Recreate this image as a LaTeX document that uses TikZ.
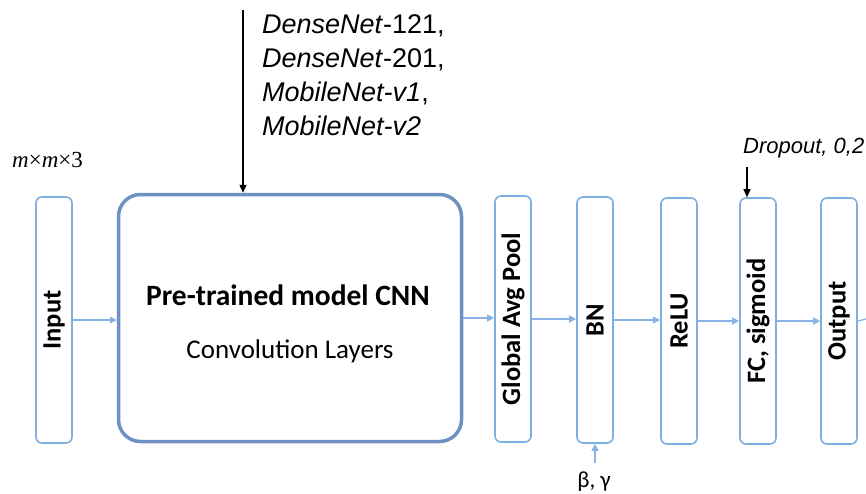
\documentclass[tikz,border=0pt]{standalone}
\usepackage{fontspec}
\setmainfont{Carlito}
\newfontfamily\arialfont{Liberation Sans}
\newfontfamily\timesfont{Liberation Serif}
\usepackage{graphicx}
\usetikzlibrary{arrows.meta}
\definecolor{layer edge}{RGB}{125,175,225}
\definecolor{cnn edge}{RGB}{110,145,195}
\definecolor{flow blue}{RGB}{135,180,228}
\tikzset{layerbox/.style={draw=layer edge, line width=1.6pt, rounded corners=6pt, minimum width=36pt, minimum height=246pt, inner sep=0pt, font=\fontsize{26.5}{30}\selectfont\bfseries},
	cnnbox/.style={draw=cnn edge, line width=3.5pt, rounded corners=22pt, minimum width=343pt, minimum height=247pt},
	flowarrow/.style={draw=flow blue, line width=1.3pt, -{Triangle[length=7pt,width=7pt]}},
	feedarrow/.style={draw=black, line width=1.3pt, -{Triangle[length=8pt,width=7pt]}},
	note/.style={font=\arialfont\fontsize{27}{34}\selectfont, align=left, inner sep=0pt}}

\begin{document}
\begin{tikzpicture}[x=1pt,y=-1pt]
		\useasboundingbox (0,0) rectangle (866,493);
		\node[layerbox] (in) at (54,320) {\rotatebox{90}{Input}};
		\node[cnnbox] (cnn) at (290,318) {};
		\node[font=\fontsize{29.5}{33}\selectfont\bfseries] (title) at (288,295) {Pre-trained model CNN};
		\node[font=\fontsize{27}{31}\selectfont] (conv) at (290,351) {Convolution Layers};
		\node[layerbox] (gap) at (513,319) {\rotatebox{90}{Global Avg Pool}};
		\node[layerbox] (bn) at (595,320) {\rotatebox{90}{BN}};
		\node[layerbox] (relu) at (679,321) {\rotatebox{90}{ReLU}};
		\node[layerbox] (fc) at (758,321) {\rotatebox{90}{FC, sigmoid}};
		\node[layerbox] (out) at (839,321) {\rotatebox{90}{Output}};
		
		\foreach \a/\b in {in/cnn,cnn/gap,gap/bn,bn/relu,relu/fc,fc/out}
			\draw[flowarrow] (\a.east) -- (\a.east -| \b.west);
		\coordinate (end) at (866,319);
		\draw[draw=flow blue, line width=1.3pt] (out.east) -- (end);
		
		\coordinate (src) at (243,10);
		\draw[feedarrow] (src) -- (src |- cnn.north);
		\node[note, anchor=north west] (nets) at (262,14) {\textit{DenseNet}-121,\\ \textit{DenseNet}-201,\\ \textit{MobileNet-v1},\\ \textit{MobileNet-v2}};
		
		\coordinate (drop) at (747,167);
		\draw[feedarrow] (drop) -- (drop |- fc.north);
		\node[anchor=base west, font=\arialfont\itshape\fontsize{22}{26}\selectfont, inner sep=0pt] (dropout) at (743,153) {Dropout, 0,2};
		
		\coordinate (bg) at (595,463);
		\draw[flowarrow] (bg) -- (bn.south);
		\node[anchor=base, font=\fontsize{23}{26}\selectfont, inner sep=0pt] (betagamma) at (594,487) {β, γ};
		\node[anchor=base west, font=\timesfont\fontsize{23}{26}\selectfont, inner sep=0pt] (size) at (12,167) {\textit{m}×\textit{m}×3};
		\end{tikzpicture}
\end{document}
